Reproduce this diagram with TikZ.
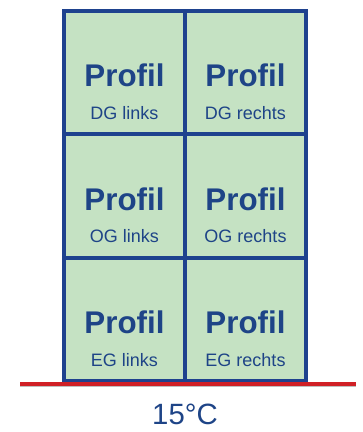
\documentclass[tikz,border=0pt]{standalone}
\usepackage{fontspec}
\setmainfont{Liberation Sans}
\usetikzlibrary{positioning}
\definecolor{zellgruen}{RGB}{197,226,195}
\definecolor{rahmenblau}{RGB}{30,66,142}
\definecolor{textblau}{RGB}{30,68,135}
\definecolor{bodenrot}{RGB}{208,32,38}

\begin{document}
\begin{tikzpicture}[x=0.75pt,y=-0.75pt,
		zelle/.style={draw=rahmenblau, line width=2.7pt, fill=zellgruen, minimum width=90.75pt, minimum height=92.6pt, inner sep=0pt},
		titel/.style={font=\bfseries\fontsize{23.5}{26}\selectfont, text=textblau, inner sep=0pt},
		unter/.style={font=\fontsize{13.5}{15}\selectfont, text=textblau, inner sep=0pt}]
	\useasboundingbox (0,0) rectangle (363,432);

	% Zellen der Etagen
	\foreach \name/\etage/\row in {dg/DG/0, og/OG/1, eg/EG/2}
		\foreach \side/\seite/\col in {l/links/0, r/rechts/1} {
			\node[zelle] (\name\side) at ({124.5+121*\col}, {72.5+123.5*\row}) {};
			\node[titel] (\name\side-titel) at ({124.5+121*\col}, {75.5+123.5*\row}) {Profil};
			\node[unter] (\name\side-unter) at ({124.5+121*\col}, {113+123.5*\row}) {\etage\ \seite};
		}

	% Boden und Temperatur
	\coordinate (boden-l) at (20,384);
	\coordinate (boden-r) at (356,384);
	\draw[black!25, line width=2pt] ([yshift=-1.6pt]boden-l) -- ([yshift=-1.6pt]boden-r);
	\draw[bodenrot, line width=2.6pt] (boden-l) -- (boden-r);
	\node[font=\fontsize{22}{24}\selectfont, text=textblau] (temp) at (185,414) {15°C};
\end{tikzpicture}
\end{document}
